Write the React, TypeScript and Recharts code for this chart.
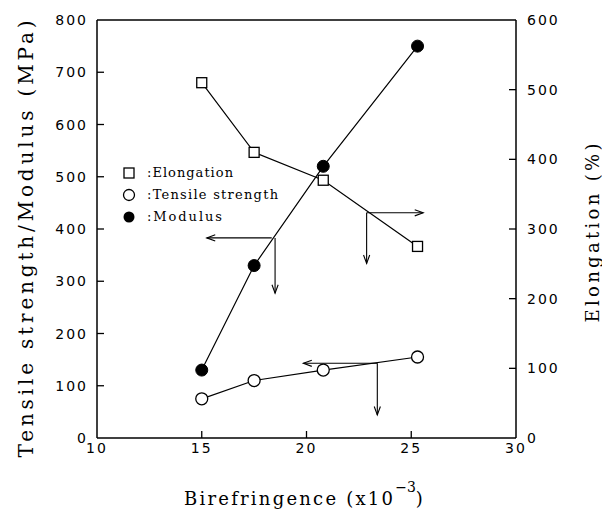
import React from 'react';
import { LineChart, Line, XAxis, YAxis, ReferenceLine } from 'recharts';

// birefringence (x10^-3) for each sample
const elongationX = [15, 17.5, 20.8, 25.3];
const elongationY = [510, 410, 370, 275];
const tensileX = [15, 17.5, 20.8, 25.3];
const tensileY = [75, 110, 130, 155];
const modulusX = [15, 17.5, 20.8, 25.3];
const modulusY = [130, 330, 520, 750];

const xTicks = [10, 15, 20, 25, 30];
const leftTicks = [0, 100, 200, 300, 400, 500, 600, 700, 800];
const rightTicks = [0, 100, 200, 300, 400, 500, 600];

// annotation arrows, in birefringence / MPa units: [x1, y1, x2, y2]
const arrows = [
  [18.34, 383, 15.24, 383],
  [18.5, 383, 18.5, 277],
  [22.87, 431, 25.57, 431],
  [22.87, 431, 22.87, 334],
  [23.38, 143, 19.85, 143],
  [23.38, 143, 23.38, 44],
];

const zip = (xs: number[], ys: number[]) => xs.map((x, i) => ({ x, y: ys[i] }));

const tickFont = { fontFamily: 'DejaVu Sans', fontSize: 14, letterSpacing: 2 };
const serif = { fontFamily: 'DejaVu Serif' };

function LeftTick({ x, y, payload }: any) {
  return (
    <g>
      {payload.value !== 0 && payload.value !== 800 && (
        <line x1={x} x2={x + 7} y1={y} y2={y} stroke="#000" strokeWidth={1.3} />
      )}
      <text x={x - 9} y={y} dy={5} textAnchor="end" style={tickFont}>{payload.value}</text>
    </g>
  );
}

function RightTick({ x, y, payload }: any) {
  return (
    <g>
      {payload.value !== 0 && payload.value !== 600 && (
        <line x1={x} x2={x - 7} y1={y} y2={y} stroke="#000" strokeWidth={1.3} />
      )}
      <text x={x + 11} y={y} dy={5} textAnchor="start" style={tickFont}>{payload.value}</text>
    </g>
  );
}

function BottomTick({ x, y, payload }: any) {
  const edge = payload.value === 10 || payload.value === 30;
  return (
    <g>
      {!edge && <line x1={x} x2={x} y1={y} y2={y - 7} stroke="#000" strokeWidth={1.3} />}
      <text x={x} y={y + 15} textAnchor="middle" style={tickFont}>{payload.value}</text>
    </g>
  );
}

function TopTick({ x, y, payload }: any) {
  if (payload.value === 10 || payload.value === 30) return <g />;
  return <line x1={x} x2={x} y1={y} y2={y + 7} stroke="#000" strokeWidth={1.3} />;
}

function Arrow(props: any) {
  const { x1, y1, x2, y2 } = props;
  const a = Math.atan2(y2 - y1, x2 - x1);
  const len = 9;
  const spread = 0.35;
  const p1 = [x2 - len * Math.cos(a - spread), y2 - len * Math.sin(a - spread)];
  const p2 = [x2 - len * Math.cos(a + spread), y2 - len * Math.sin(a + spread)];
  return (
    <g stroke="#000" strokeWidth={1.1} fill="none">
      <line x1={x1} y1={y1} x2={x2} y2={y2} />
      <polyline points={`${p1[0]},${p1[1]} ${x2},${y2} ${p2[0]},${p2[1]}`} />
    </g>
  );
}

const SquareDot = ({ cx, cy }: any) => (
  <rect x={cx - 5} y={cy - 5} width={10} height={10} fill="#fff" stroke="#000" strokeWidth={1.3} />
);
const OpenDot = ({ cx, cy }: any) => (
  <circle cx={cx} cy={cy} r={6} fill="#fff" stroke="#000" strokeWidth={1.3} />
);
const FilledDot = ({ cx, cy }: any) => <circle cx={cx} cy={cy} r={6} fill="#000" stroke="#000" />;

const legendLabels = [':Elongation', ':Tensile strength', ':Modulus'];
const legendWidths = [86, 131, 75];

export default function App() {
  return (
    <LineChart width={602} height={502} margin={{ top: 0, right: 0, bottom: 0, left: 0 }}>
      <XAxis xAxisId="b" dataKey="x" type="number" domain={[10, 30]} ticks={xTicks} tickSize={0}
        tickMargin={0} tick={<BottomTick />} stroke="#000" strokeWidth={1.5} height={72} />
      <XAxis xAxisId="t" orientation="top" dataKey="x" type="number" domain={[10, 30]} ticks={xTicks}
        tickSize={0} tickMargin={0} tick={<TopTick />} stroke="#000" strokeWidth={1.5} height={12} />
      <YAxis yAxisId="l" type="number" domain={[0, 800]} ticks={leftTicks} tickSize={0} tickMargin={0}
        tick={<LeftTick />} stroke="#000" strokeWidth={1.5} width={89} />
      <YAxis yAxisId="r" orientation="right" type="number" domain={[0, 600]} ticks={rightTicks}
        tickSize={0} tickMargin={0} tick={<RightTick />} stroke="#000" strokeWidth={1.5} width={94} />
      <Line xAxisId="b" yAxisId="r" data={zip(elongationX, elongationY)} dataKey="y" stroke="#000"
        strokeWidth={1.2} dot={<SquareDot />} isAnimationActive={false} />
      <Line xAxisId="b" yAxisId="l" data={zip(tensileX, tensileY)} dataKey="y" stroke="#000"
        strokeWidth={1.2} dot={<OpenDot />} isAnimationActive={false} />
      <Line xAxisId="b" yAxisId="l" data={zip(modulusX, modulusY)} dataKey="y" stroke="#000"
        strokeWidth={1.2} dot={<FilledDot />} isAnimationActive={false} />
      {arrows.map((a, i) => (
        <ReferenceLine key={i} xAxisId="b" yAxisId="l" segment={[{ x: a[0], y: a[1] }, { x: a[2], y: a[3] }]}
          shape={<Arrow />} ifOverflow="visible" />
      ))}
      <g>
        <rect x={116} y={160} width={10} height={10} fill="#fff" stroke="#000" strokeWidth={1.3} />
        <circle cx={121} cy={187} r={5.5} fill="#fff" stroke="#000" strokeWidth={1.3} />
        <circle cx={121} cy={209} r={5.5} fill="#000" />
        {legendLabels.map((t, i) => (
          <text key={t} x={139} y={169 + i * 22} textLength={legendWidths[i]} lengthAdjust="spacing"
            style={{ ...serif, fontSize: 13 }}>{t}</text>
        ))}
      </g>
      <text x={25} y={231} transform="rotate(-90 25 231)" textAnchor="middle" textLength={437}
        lengthAdjust="spacing" style={{ ...serif, fontSize: 20 }}>
        Tensile strength/Modulus (MPa)
      </text>
      <text x={591} y={225} transform="rotate(-90 591 225)" textAnchor="middle" textLength={179}
        lengthAdjust="spacing" style={{ ...serif, fontSize: 18 }}>
        Elongation (%)
      </text>
      <text x={176} y={497} style={{ ...serif, fontSize: 18 }}>
        <tspan textLength={209} lengthAdjust="spacing">Birefringence (x10</tspan>
        <tspan dy={-13} fontSize={14}>−3</tspan>
        <tspan dy={13}>)</tspan>
      </text>
    </LineChart>
  );
}
